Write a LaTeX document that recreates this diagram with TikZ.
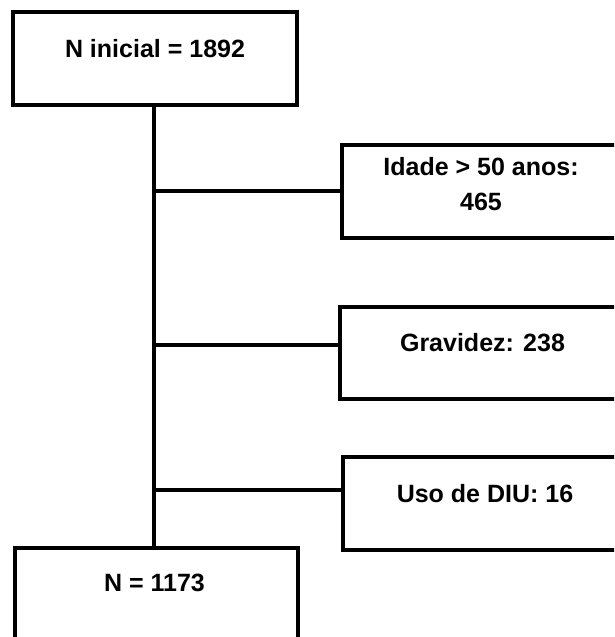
\documentclass[tikz,border=0pt]{standalone}
\usepackage{fontspec}
\setmainfont{Liberation Sans}
\begin{document}
\begin{tikzpicture}[x=1pt,y=-1pt,
  box/.style={draw=black,line width=4pt,rectangle,inner sep=0pt},
  lbl/.style={font=\fontsize{25}{35}\selectfont\bfseries,inner sep=0pt,align=center},
  conn/.style={draw=black,line width=4pt}]
\useasboundingbox (0,0) rectangle (614,637);
\clip (0,0) rectangle (614,637);
% boxes
\node[box,minimum width=284pt,minimum height=93pt] (top) at (155,58.5) {};
\node[box,minimum width=278pt,minimum height=93pt] (b1) at (481,191.5) {};
\node[box,minimum width=280pt,minimum height=92pt] (b2) at (480,353) {};
\node[box,minimum width=277pt,minimum height=93pt] (b3) at (481.5,503.5) {};
\node[box,minimum width=283pt,minimum height=102pt] (bot) at (156.5,599) {};
% labels
\node[lbl] (t0) at (155,49) {N inicial = 1892};
\node[lbl] (t1) at (481,184.5) {Idade > 50 anos:\\465};
\node[lbl] (t2) at (482.5,343) {Gravidez: 238};
\node[lbl] (t3) at (485,494) {Uso de DIU: 16};
\node[lbl] (t4) at (154.5,582.5) {N = 1173};
% connectors
\coordinate (c1) at (154,191);
\coordinate (c2) at (154,345);
\coordinate (c3) at (154,490);
\draw[conn] (top.south -| c1) -- (bot.north -| c1);
\draw[conn] (c1) -- (c1 -| b1.west);
\draw[conn] (c2) -- (c2 -| b2.west);
\draw[conn] (c3) -- (c3 -| b3.west);
\end{tikzpicture}
\end{document}
